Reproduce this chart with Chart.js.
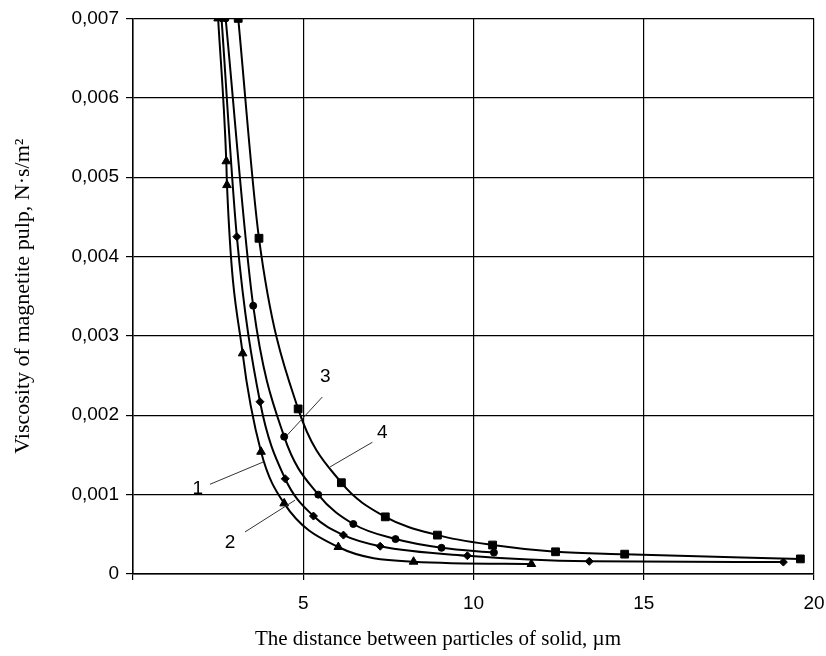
<!DOCTYPE html>
<html>
<head>
<meta charset="utf-8">
<script src="https://cdn.jsdelivr.net/npm/chart.js@4.4.1/dist/chart.umd.min.js"></script>
<style>
  html, body { margin: 0; padding: 0; background: #fff; }
</style>
</head>
<body>
<canvas id="viscosityChart" width="826" height="656"></canvas>
<script>
// Curve 1 (triangles)
const distance1 = [2.5, 2.74, 2.76, 3.22, 3.76, 4.44, 6.03, 8.24, 11.7];
const viscosity1 = [0.007, 0.0052, 0.0049, 0.00278, 0.00154, 0.00089, 0.00034, 0.000155, 0.000126];
// Curve 2 (diamonds)
const distance2 = [2.6, 3.05, 3.73, 4.47, 5.3, 6.18, 7.26, 9.82, 13.4, 19.1];
const viscosity2 = [0.007, 0.00425, 0.00217, 0.0012, 0.00073, 0.00049, 0.00035, 0.00023, 0.00016, 0.00015];
// Curve 3 (circles)
const distance3 = [2.72, 3.53, 4.44, 5.44, 6.47, 7.71, 9.06, 10.6];
const viscosity3 = [0.007, 0.00338, 0.00173, 0.001, 0.00063, 0.00044, 0.00033, 0.00027];
// Curve 4 (squares)
const distance4 = [3.09, 3.7, 4.85, 6.12, 7.41, 8.94, 10.56, 12.41, 14.44, 19.6];
const viscosity4 = [0.007, 0.00423, 0.00208, 0.00115, 0.00072, 0.00049, 0.000365, 0.00028, 0.00025, 0.00019];

// Numbered labels with leader lines (data units)
const curveNames = ['1', '2', '3', '4'];
const nameX = [1.9, 2.85, 5.65, 7.32];
const nameY = [0.00108, 0.00039, 0.00249, 0.00178];
const leaderStartX = [2.26, 3.29, 5.56, 7.03];
const leaderStartY = [0.00113, 0.00053, 0.00223, 0.00166];
const leaderEndX = [3.82, 4.76, 4.53, 5.79];
const leaderEndY = [0.00141, 0.00093, 0.00175, 0.00135];

const yTicks = [0, 0.001, 0.002, 0.003, 0.004, 0.005, 0.006, 0.007];

const toPoints = (xs, ys) => xs.map((x, i) => ({ x: x, y: ys[i] }));

function makeSeries(label, xs, ys, style, radius) {
  return {
    label: label,
    data: toPoints(xs, ys),
    borderColor: '#000',
    backgroundColor: '#000',
    borderWidth: 2,
    pointStyle: style,
    pointRadius: radius,
    pointBorderWidth: 1,
    cubicInterpolationMode: 'monotone',
    tension: 0.4
  };
}

// Curve numbers, leaders and the x axis title
const annotations = {
  id: 'annotations',
  afterDatasetsDraw(chart) {
    const { ctx, scales: { x, y }, chartArea } = chart;
    ctx.save();
    ctx.strokeStyle = '#333';
    ctx.lineWidth = 1;
    for (let i = 0; i < curveNames.length; i++) {
      ctx.beginPath();
      ctx.moveTo(x.getPixelForValue(leaderStartX[i]), y.getPixelForValue(leaderStartY[i]));
      ctx.lineTo(x.getPixelForValue(leaderEndX[i]), y.getPixelForValue(leaderEndY[i]));
      ctx.stroke();
    }
    ctx.fillStyle = '#000';
    ctx.font = '19px "Liberation Sans", Arial, sans-serif';
    ctx.textAlign = 'center';
    ctx.textBaseline = 'middle';
    for (let i = 0; i < curveNames.length; i++) {
      ctx.fillText(curveNames[i], x.getPixelForValue(nameX[i]), y.getPixelForValue(nameY[i]));
    }
    ctx.font = '21px "Liberation Serif", "Times New Roman", serif';
    ctx.fillText('The distance between particles of solid, µm', chartArea.left + 305, 639);
    ctx.restore();
  }
};

new Chart(document.getElementById('viscosityChart').getContext('2d'), {
  type: 'line',
  data: {
    datasets: [
      makeSeries('1', distance1, viscosity1, 'triangle', 5),
      makeSeries('2', distance2, viscosity2, 'rectRot', 4),
      makeSeries('3', distance3, viscosity3, 'circle', 3.5),
      makeSeries('4', distance4, viscosity4, 'rect', 5.5)
    ]
  },
  options: {
    responsive: false,
    animation: false,
    layout: { padding: { left: 0, right: 12, top: 18, bottom: 0 } },
    plugins: {
      legend: { display: false },
      tooltip: { enabled: false }
    },
    scales: {
      x: {
        type: 'linear',
        min: 0,
        max: 20,
        ticks: {
          stepSize: 5,
          color: '#000',
          font: { family: '"Liberation Sans", Arial, sans-serif', size: 19 },
          padding: 12,
          callback: (v) => (v === 0 ? '' : String(v))
        },
        grid: { color: '#000', lineWidth: 1.2, tickLength: 6 },
        border: { color: '#000', width: 1.5 },
        afterFit: (scale) => {
          scale.height = 82;
          scale.paddingLeft = 0;
          scale.paddingRight = 0;
        }
      },
      y: {
        type: 'linear',
        min: 0,
        max: 0.007,
        afterBuildTicks: (scale) => { scale.ticks = yTicks.map(v => ({ value: v })); },
        ticks: {
          color: '#000',
          font: { family: '"Liberation Sans", Arial, sans-serif', size: 19 },
          padding: 7,
          callback: (v) => (v === 0 ? '0' : v.toFixed(3).replace('.', ','))
        },
        grid: { color: '#000', lineWidth: 1.2, tickLength: 7 },
        border: { color: '#000', width: 1.5 },
        title: {
          display: true,
          text: 'Viscosity of magnetite pulp, N·s/m²',
          color: '#000',
          font: { family: '"Liberation Serif", "Times New Roman", serif', size: 22 },
          padding: { top: 10, bottom: 10 }
        },
        afterFit: (scale) => { scale.width = 133; }
      }
    }
  },
  plugins: [annotations]
});
</script>
</body>
</html>
